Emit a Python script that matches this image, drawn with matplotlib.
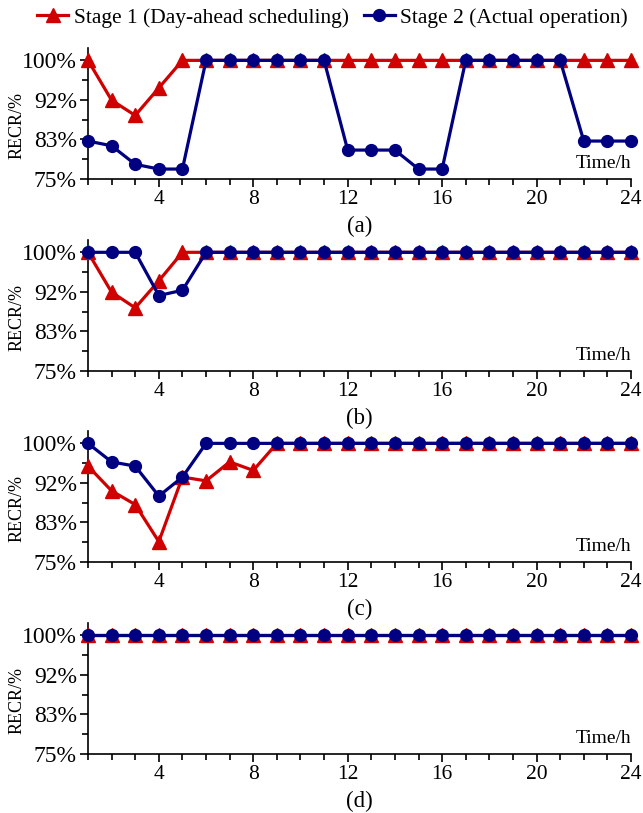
import matplotlib.pyplot as plt
from matplotlib.ticker import MultipleLocator, FixedLocator

plt.rcParams['font.family'] = ['Liberation Serif', 'DejaVu Serif']

hours = list(range(1, 25))

# Panel (a)
stage1_a = [100, 91.6, 88.4, 94.2] + [100] * 20
stage2_a = [83.0, 82.0, 78.1, 77.1, 77.1] + [100] * 6 + [81.1, 81.1, 81.1, 77.1, 77.1] + [100] * 5 + [83.0, 83.0, 83.0]

# Panel (b)
stage1_b = [100, 91.6, 88.3, 94.0] + [100] * 20
stage2_b = [100, 100, 100, 90.9, 92.0] + [100] * 19

# Panel (c)
stage1_c = [95.2, 90.0, 87.1, 79.3, 92.9, 92.1, 96.1, 94.3] + [100] * 16
stage2_c = [100, 96.1, 95.2, 88.9, 92.9] + [100] * 19

# Panel (d)
stage1_d = [100] * 24
stage2_d = [100] * 24

panels = [(stage1_a, stage2_a, "(a)"), (stage1_b, stage2_b, "(b)"),
          (stage1_c, stage2_c, "(c)"), (stage1_d, stage2_d, "(d)")]

yticks = [75, 83.333, 91.667, 100]
ylabels = ["75%", "83%", "92%", "100%"]

red = "#D00000"
blue = "#000080"

fig = plt.figure(figsize=(6.43, 8.13), dpi=100)

bottoms = [0.7798, 0.5437, 0.3087, 0.0726]
left = 88 / 643
width = (631 - 88) / 643
height = 131 / 813

for (s1, s2, cap), b in zip(panels, bottoms):
    ax = fig.add_axes([left, b, width, height])
    l1, = ax.plot(hours, s1, color=red, lw=2.3, marker="^", ms=10, clip_on=False, zorder=3,
                  label="Stage 1 (Day-ahead scheduling)")
    l2, = ax.plot(hours, s2, color=blue, lw=2.3, marker="o", ms=8.5, clip_on=False, zorder=4,
                  label="Stage 2 (Actual operation)")
    ax.set_xlim(1, 24)
    ax.set_ylim(75, 102.6)
    ax.spines['top'].set_visible(False)
    ax.spines['right'].set_visible(False)
    ax.spines['left'].set_linewidth(1.2)
    ax.spines['bottom'].set_linewidth(1.2)
    ax.xaxis.set_major_locator(FixedLocator([4, 8, 12, 16, 20, 24]))
    ax.xaxis.set_minor_locator(MultipleLocator(1))
    ax.set_yticks(yticks)
    ax.set_yticklabels(ylabels)
    ax.yaxis.set_minor_locator(FixedLocator([79.167, 87.5, 95.833]))
    ax.tick_params(axis='x', which='major', labelsize=15.5, direction='out', length=6, width=1.2, pad=2)
    ax.tick_params(axis='y', which='major', labelsize=17, direction='out', length=6, width=1.2, pad=2)
    ax.tick_params(axis='both', which='minor', direction='out', length=4, width=1.2)
    ax.set_ylabel("RECR/%", fontsize=13)
    ax.yaxis.set_label_coords(-0.115, 0.41)
    ax.text(1.0, 0.05, "Time/h", transform=ax.transAxes, ha='right', va='bottom', fontsize=14)
    ax.text(0.5, -0.36, cap, transform=ax.transAxes, ha='center', va='center', fontsize=16.5)

fig.legend(handles=[l1, l2], loc='center', bbox_to_anchor=(0.517, 1 - 18 / 813), ncol=2,
           frameon=False, fontsize=15.5, handlelength=1.45, columnspacing=0.7, handletextpad=0.25,
           borderpad=0)

fig.savefig("out.png", dpi=100)
